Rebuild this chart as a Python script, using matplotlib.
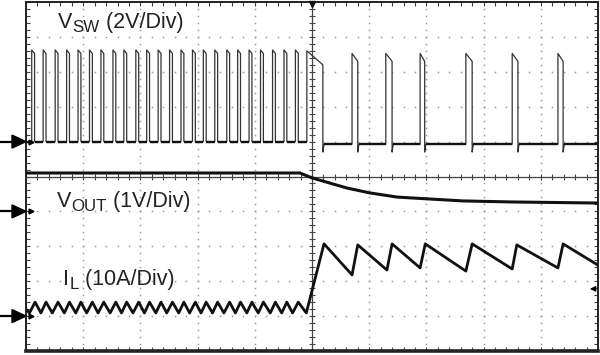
import numpy as np
import matplotlib.pyplot as plt
from matplotlib.patches import Polygon


# ============================================================
# CONFIGURATION
# ============================================================

plt.rcParams["font.family"] = ["Liberation Sans", "DejaVu Sans"]

W_PX, H_PX = 600, 355
LEFT_PX, RIGHT_PX, TOP_PX, BOTTOM_PX = 26, 598, 2, 351

TRACE = "#111111"
TEXT = "#222222"
DOTS = "#9a9a9a"

LABEL_SIZE = 15.5
SUB_SIZE = 12.2
SUB_DROP_PX = 3.7

# channel ground markers (divisions from bottom) and scales
SW_GND, SW_SCALE = 6.0, 2.0        # 2 V/div
OUT_GND, OUT_SCALE = 4.0, 1.0      # 1 V/div
IL_GND, IL_SCALE = 1.0, 10.0       # 10 A/div
TRIG_LEVEL = 1.78


# ============================================================
# DATA (time in divisions, values in V / A)
# ============================================================

SW_PRE_RISE = [0.10, 0.30, 0.51, 0.71, 0.91, 1.11, 1.31, 1.52, 1.71, 1.92,
               2.11, 2.31, 2.51, 2.71, 2.91, 3.10, 3.30, 3.51, 3.70, 3.90,
               4.10, 4.31, 4.51, 4.71]
SW_PRE_WIDTH = 0.05
SW_PRE_HIGH = [5.25, 5.05]         # top at rise, top at fall
SW_PRE_LOW = 0.0

SW_LONG_PULSE = [4.91, 5.19]       # rise, fall
SW_LONG_HIGH = [5.20, 4.40]

SW_POST_RISE = [5.70, 6.29, 6.89, 7.69, 8.50, 9.30]
SW_POST_FALL = [5.80, 6.40, 6.97, 7.80, 8.60, 9.39]
SW_POST_HIGH = [5.05, 4.60]
SW_POST_LOW = -0.15
SW_UNDERSHOOT = -0.60

VOUT_T = [0.0, 4.79, 4.88, 5.00, 5.19, 5.61, 6.01, 6.49, 7.01, 7.64, 8.51, 10.0]
VOUT_V = [1.10, 1.10, 1.04, 0.96, 0.87, 0.67, 0.53, 0.41, 0.36, 0.30, 0.27, 0.24]

IL_PRE_VALLEY_T = [0.06, 0.26, 0.46, 0.67, 0.87, 1.06, 1.26, 1.47, 1.67, 1.87,
                   2.07, 2.27, 2.46, 2.67, 2.86, 3.06, 3.26, 3.46, 3.66, 3.86,
                   4.06, 4.27, 4.47, 4.66, 4.90]
IL_PRE_PEAK_T = [0.16, 0.35, 0.56, 0.76, 0.96, 1.16, 1.36, 1.57, 1.76, 1.97,
                 2.16, 2.36, 2.56, 2.76, 2.96, 3.15, 3.35, 3.56, 3.75, 3.95,
                 4.15, 4.36, 4.56, 4.76]
IL_PRE_VALLEY = 0.9
IL_PRE_PEAK = 4.0

IL_POST_T = [5.21, 5.70, 5.80, 6.31, 6.40, 6.89, 6.98, 7.69, 7.80, 8.50,
             8.58, 9.30, 9.39, 10.0]
IL_POST_A = [20.7, 11.8, 20.4, 13.2, 20.7, 13.8, 20.7, 12.9, 20.7, 13.5,
             20.4, 13.8, 20.7, 14.6]

# label text: (x div, baseline div, main, subscript, rest)
LABELS = [
    (0.56, 9.255, "V", "SW", " (2V/Div)"),
    (0.54, 4.126, "V", "OUT", " (1V/Div)"),
    (0.65, 1.89, "I", "L", " (10A/Div)"),
]


# ============================================================
# TRACE BUILDERS
# ============================================================


def build_vsw():

    t, v = [0.0], [SW_PRE_LOW]

    for r in SW_PRE_RISE:
        f = r + SW_PRE_WIDTH
        t += [r, r, f, f]
        v += [SW_PRE_LOW, SW_PRE_HIGH[0], SW_PRE_HIGH[1], SW_PRE_LOW]

    r, f = SW_LONG_PULSE
    t += [r, r, f, f, f + 0.02]
    v += [SW_PRE_LOW, SW_LONG_HIGH[0], SW_LONG_HIGH[1], SW_UNDERSHOOT, SW_POST_LOW]

    for r, f in zip(SW_POST_RISE, SW_POST_FALL):
        t += [r, r, f, f, f + 0.02]
        v += [SW_POST_LOW, SW_POST_HIGH[0], SW_POST_HIGH[1],
              SW_UNDERSHOOT, SW_POST_LOW]

    t.append(10.0)
    v.append(SW_POST_LOW)

    return np.array(t), np.array(v)


def build_il():

    t, a = [0.0], [2.0]

    for i, tv in enumerate(IL_PRE_VALLEY_T):
        t.append(tv)
        a.append(IL_PRE_VALLEY)
        if i < len(IL_PRE_PEAK_T):
            t.append(IL_PRE_PEAK_T[i])
            a.append(IL_PRE_PEAK)

    t += IL_POST_T
    a += IL_POST_A

    return np.array(t), IL_GND + np.array(a) / IL_SCALE


# ============================================================
# SCREEN GRATICULE
# ============================================================


def draw_graticule(ax):

    px_x = (RIGHT_PX - LEFT_PX) / 10.0
    px_y = (BOTTOM_PX - TOP_PX) / 10.0

    fine = np.arange(0, 10.001, 0.2)

    # dotted division lines
    for i in range(1, 10):
        if i == 5:
            continue
        ax.plot(np.full_like(fine, i), fine, ls="none", marker="s",
                ms=1.1, mew=0, color=DOTS, zorder=1)
        ax.plot(fine, np.full_like(fine, i), ls="none", marker="s",
                ms=1.1, mew=0, color=DOTS, zorder=1)

    # centre cross with small ticks
    ax.axvline(5, color="#444444", lw=0.9, zorder=1)
    ax.axhline(5, color="#444444", lw=0.9, zorder=1)

    hx = 3.0 / px_x
    hy = 3.0 / px_y
    ax.hlines(fine, 5 - hx, 5 + hx, color="#444444", lw=0.8, zorder=1)
    ax.vlines(fine, 5 - hy, 5 + hy, color="#444444", lw=0.8, zorder=1)

    # edge ticks
    ax.set_xlim(0, 10)
    ax.set_ylim(0, 10)
    ax.set_xticks(fine)
    ax.set_yticks(fine)
    ax.tick_params(direction="in", length=3, width=0.8, color="#444444",
                   top=True, right=True, labelbottom=False, labelleft=False)

    for side in ["left", "right", "top"]:
        ax.spines[side].set_linewidth(1.4)
        ax.spines[side].set_color("#222222")
    ax.spines["bottom"].set_linewidth(2.6)
    ax.spines["bottom"].set_color("#222222")

    # trigger position marker
    ax.plot(5, 9.93, marker="v", ms=5, color="#111111", clip_on=False, zorder=6)

    return px_x, px_y


def draw_ground_arrow(ax, y, px_x, px_y):

    head_len = 14.0 / px_x
    head_h = 6.5 / px_y

    ax.plot([-LEFT_PX / px_x, -head_len + 0.02], [y, y], color="black",
            lw=1.6, clip_on=False, solid_capstyle="butt")

    ax.add_patch(Polygon(
        [[-head_len, y + head_h], [0, y], [-head_len, y - head_h]],
        closed=True, color="black", clip_on=False, zorder=6,
    ))

    ax.plot(0.08, y, marker=">", ms=3.5, color="black", zorder=6)


def draw_label(fig, ax, x, y, main, sub, rest):

    renderer = fig.canvas.get_renderer()
    to_pt = 72.0 / fig.dpi

    t1 = ax.text(x, y, main, fontsize=LABEL_SIZE, color=TEXT, va="baseline")
    w1 = t1.get_window_extent(renderer).width

    t2 = ax.annotate(sub, xy=(x, y), xytext=(w1 * to_pt, -SUB_DROP_PX * to_pt),
                     textcoords="offset points", fontsize=SUB_SIZE,
                     color=TEXT, va="baseline")
    w2 = t2.get_window_extent(renderer).width

    ax.annotate(rest, xy=(x, y), xytext=((w1 + w2) * to_pt, 0),
                textcoords="offset points", fontsize=LABEL_SIZE,
                color=TEXT, va="baseline")


# ============================================================
# MAIN
# ============================================================


def main():

    fig = plt.figure(figsize=(W_PX / 100, H_PX / 100), dpi=100)

    ax = fig.add_axes([
        LEFT_PX / W_PX,
        (H_PX - BOTTOM_PX) / H_PX,
        (RIGHT_PX - LEFT_PX) / W_PX,
        (BOTTOM_PX - TOP_PX) / H_PX,
    ])

    px_x, px_y = draw_graticule(ax)

    t_sw, v_sw = build_vsw()
    y_sw = SW_GND + v_sw / SW_SCALE
    ax.plot(t_sw, y_sw, color="#333333", lw=0.9, zorder=4)

    # the flat low parts of the switch node look heavier on the screen
    low = np.isclose(v_sw, SW_PRE_LOW) | np.isclose(v_sw, SW_POST_LOW)
    ax.plot(t_sw, np.where(low, y_sw, np.nan), color=TRACE, lw=1.7,
            solid_capstyle="butt", zorder=5)

    ax.plot(VOUT_T, OUT_GND + np.array(VOUT_V) / OUT_SCALE,
            color=TRACE, lw=2.2, zorder=4)

    t_il, y_il = build_il()
    ax.plot(t_il, y_il, color=TRACE, lw=2.0, zorder=4)

    for x, y, main_txt, sub_txt, rest_txt in LABELS:
        draw_label(fig, ax, x, y, main_txt, sub_txt, rest_txt)

    for y in [SW_GND, OUT_GND, IL_GND]:
        draw_ground_arrow(ax, y, px_x, px_y)

    # trigger level marker on the right edge
    ax.annotate("", xy=(9.81, TRIG_LEVEL), xytext=(10.0, TRIG_LEVEL),
                arrowprops=dict(arrowstyle="-|>", color="black", lw=0.9,
                                mutation_scale=8), annotation_clip=False)

    fig.savefig("out.png", dpi=100)
    plt.close(fig)


if __name__ == "__main__":
    main()
